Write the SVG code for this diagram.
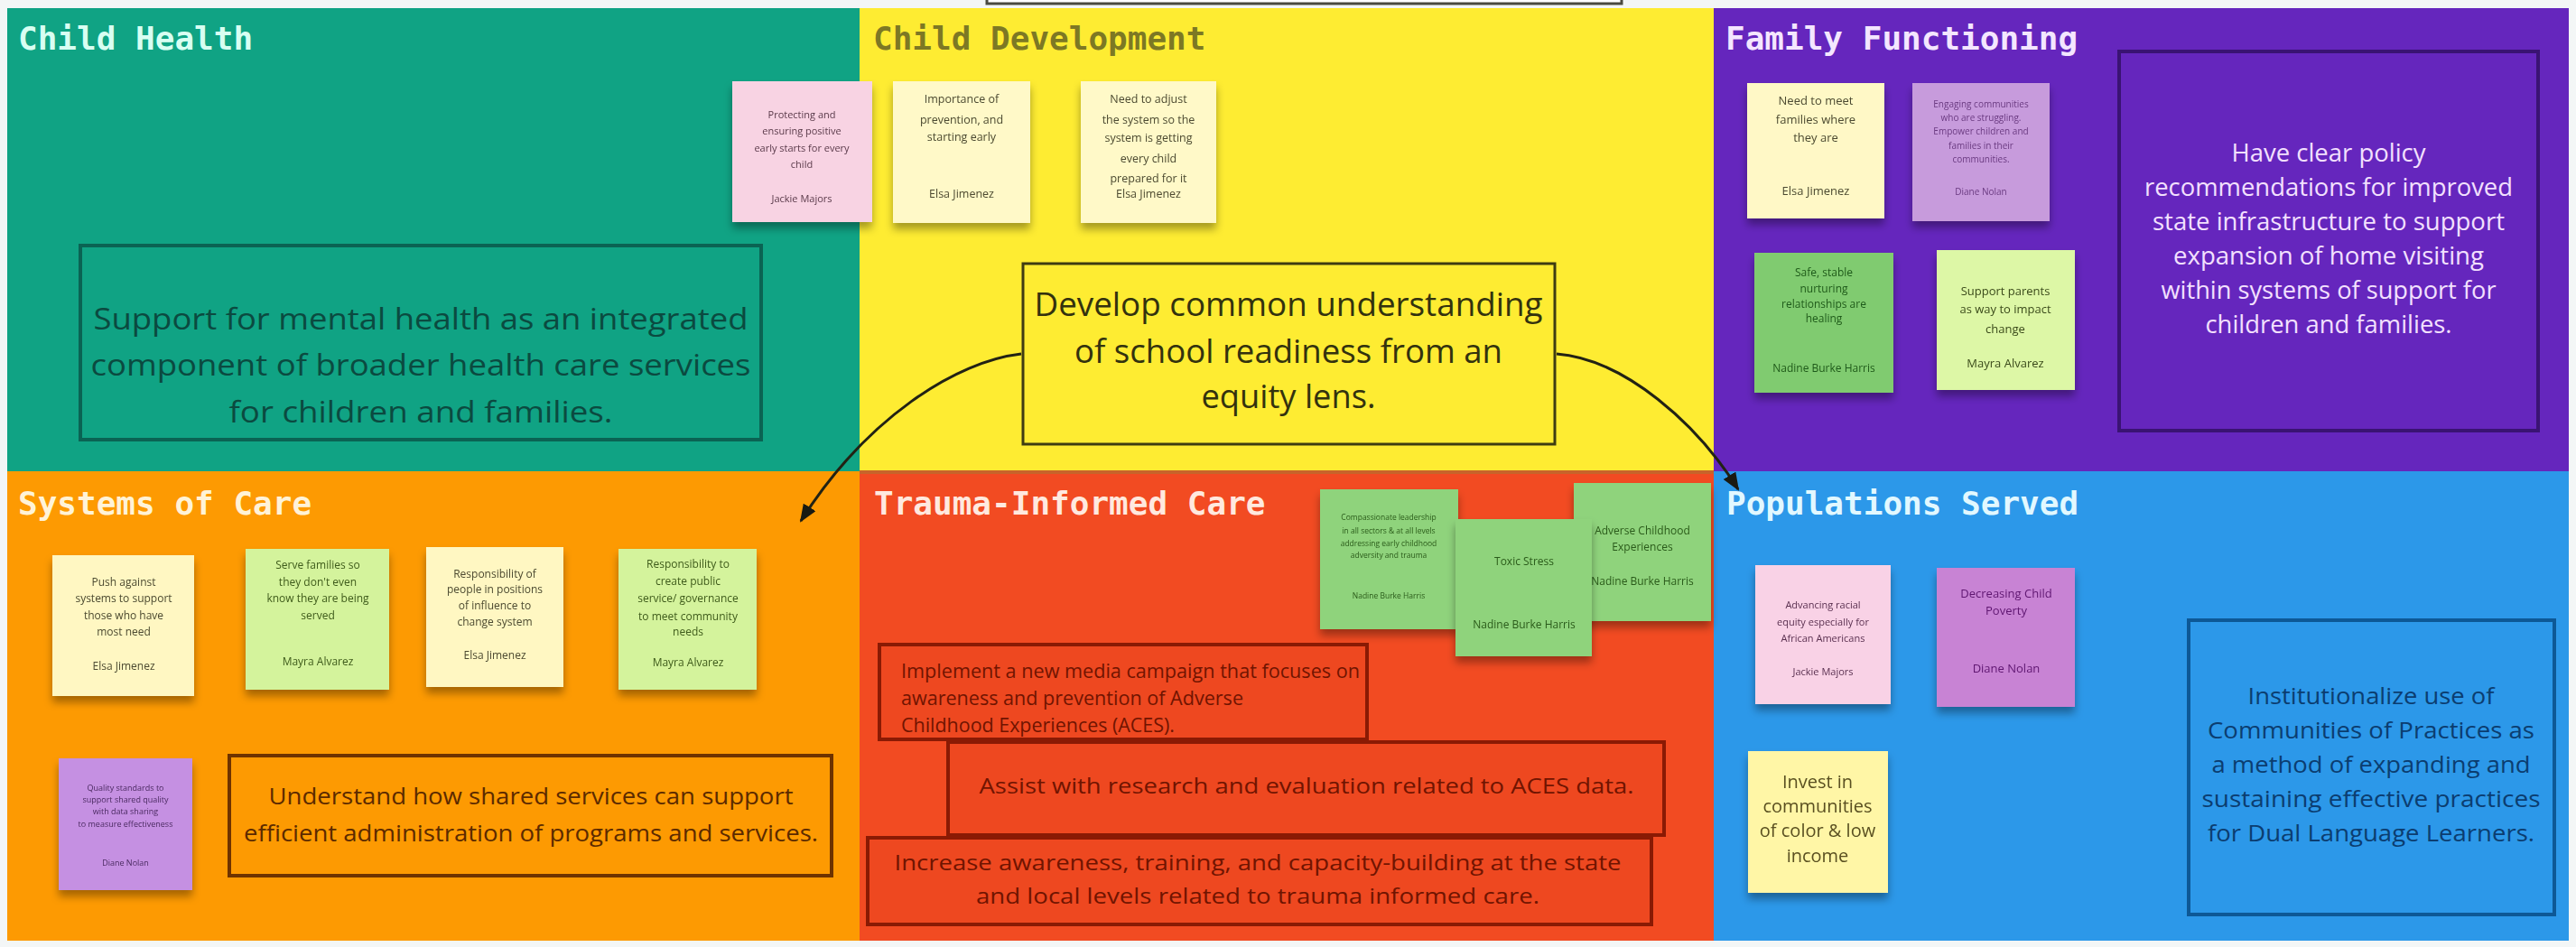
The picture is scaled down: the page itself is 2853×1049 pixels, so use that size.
<svg xmlns="http://www.w3.org/2000/svg" width="2853" height="1049" viewBox="0 0 2853 1049">
<style>
.title{font-family:"DejaVu Sans Mono","Liberation Mono",monospace;font-weight:bold;font-size:36px}
.big{font-family:"Open Sans","Noto Sans","Liberation Sans",sans-serif;text-anchor:middle}
.st{font-family:"Open Sans","Noto Sans","Liberation Sans",sans-serif;text-anchor:middle}
.sticky{filter:url(#sh)}
.conn{fill:none;stroke:#222214;stroke-width:3}
</style>
<defs>
<filter id="sh" x="-20%" y="-20%" width="140%" height="150%">
<feDropShadow dx="0" dy="7" stdDeviation="5" flood-color="#000" flood-opacity="0.35"/>
</filter>
<marker id="ah" markerUnits="userSpaceOnUse" markerWidth="20" markerHeight="16" refX="18" refY="8" orient="auto">
<path d="M0,0 L20,8 L0,16 Z" fill="#1a1a12"/>
</marker>
</defs>
<rect x="0" y="0" width="2853" height="1049" fill="#f3f6f6"/>
<g id="top-box"><rect x="1093" y="-12" width="703" height="16" fill="#ffffff" stroke="#4a4a40" stroke-width="3"/></g>

<g id="panel-child-health">
<rect x="8" y="9" width="944" height="513" fill="#10a384"/>
<text class="title" x="20" y="55" fill="#d8fff2">Child Health</text>
</g>
<g id="panel-child-development">
<rect x="952" y="9" width="946" height="513" fill="#feec32"/>
<text class="title" x="967" y="55" fill="#7d7824">Child Development</text>
</g>
<g id="panel-family-functioning">
<rect x="1898" y="9" width="947" height="513" fill="#6526bd"/>
<text class="title" x="1911" y="55" fill="#f4e6ff">Family Functioning</text>
</g>
<g id="panel-systems-of-care">
<rect x="8" y="522" width="944" height="520" fill="#fd9a02"/>
<text class="title" x="20" y="570" fill="#fff3d8">Systems of Care</text>
</g>
<g id="panel-trauma-informed-care">
<rect x="952" y="522" width="946" height="520" fill="#f24b22"/>
<rect x="952" y="521" width="946" height="4" fill="#c8642a"/>
<text class="title" x="968" y="570" fill="#ffe9df">Trauma-Informed Care</text>
</g>
<g id="panel-populations-served">
<rect x="1898" y="522" width="947" height="520" fill="#2c98e9"/>
<text class="title" x="1912" y="570" fill="#e2f8ff">Populations Served</text>
</g>

<!-- Child Health -->
<g id="box-mental-health">
<rect x="89" y="272" width="754" height="215" fill="#10a384" stroke="#0a6353" stroke-width="4"/>
<text class="big" font-size="33" fill="#0b4a40"><tspan x="466" y="365" textLength="725" lengthAdjust="spacingAndGlyphs">Support for mental health as an integrated</tspan><tspan x="466" y="416" textLength="731" lengthAdjust="spacingAndGlyphs">component of broader health care services</tspan><tspan x="466" y="468" textLength="425" lengthAdjust="spacingAndGlyphs">for children and families.</tspan></text>
</g>

<!-- Child Development -->
<g id="sticky-cd-1" class="sticky">
<rect x="989" y="90" width="152" height="157" fill="#fff9c8"/>
<text class="st" font-size="12.5" fill="#4c4a30"><tspan x="1065" y="114">Importance of</tspan><tspan x="1065" y="137">prevention, and</tspan><tspan x="1065" y="156">starting early</tspan><tspan x="1065" y="219">Elsa Jimenez</tspan></text>
</g>
<g id="sticky-cd-2" class="sticky">
<rect x="1197" y="90" width="150" height="157" fill="#fff9c8"/>
<text class="st" font-size="12.5" fill="#4c4a30"><tspan x="1272" y="114">Need to adjust</tspan><tspan x="1272" y="137">the system so the</tspan><tspan x="1272" y="157">system is getting</tspan><tspan x="1272" y="180">every child</tspan><tspan x="1272" y="202">prepared for it</tspan><tspan x="1272" y="219">Elsa Jimenez</tspan></text>
</g>
<g id="sticky-ch-1" class="sticky">
<rect x="811" y="90" width="155" height="156" fill="#f8d3e3"/>
<text class="st" font-size="11" fill="#5a3a4a"><tspan x="888" y="131">Protecting and</tspan><tspan x="888" y="149">ensuring positive</tspan><tspan x="888" y="168">early starts for every</tspan><tspan x="888" y="186">child</tspan><tspan x="888" y="224">Jackie Majors</tspan></text>
</g>
<g id="box-school-readiness">
<rect x="1133" y="292" width="589" height="200" fill="#feec32" stroke="#3e3c12" stroke-width="3"/>
<text class="big" font-size="37" fill="#33320e"><tspan x="1427" y="350" textLength="563" lengthAdjust="spacingAndGlyphs">Develop common understanding</tspan><tspan x="1427" y="402" textLength="474" lengthAdjust="spacingAndGlyphs">of school readiness from an</tspan><tspan x="1427" y="452" textLength="193" lengthAdjust="spacingAndGlyphs">equity lens.</tspan></text>
</g>

<!-- Family Functioning -->
<g id="sticky-ff-1" class="sticky">
<rect x="1935" y="92" width="152" height="150" fill="#fff8c6"/>
<text class="st" font-size="13" fill="#4c4a30"><tspan x="2011" y="116">Need to meet</tspan><tspan x="2011" y="137">families where</tspan><tspan x="2011" y="157">they are</tspan><tspan x="2011" y="216">Elsa Jimenez</tspan></text>
</g>
<g id="sticky-ff-2" class="sticky">
<rect x="2118" y="92" width="152" height="153" fill="#c79bdc"/>
<text class="st" font-size="10" fill="#6a3a80"><tspan x="2194" y="119">Engaging communities</tspan><tspan x="2194" y="134">who are struggling.</tspan><tspan x="2194" y="149">Empower children and</tspan><tspan x="2194" y="165">families in their</tspan><tspan x="2194" y="180">communities.</tspan><tspan x="2194" y="216">Diane Nolan</tspan></text>
</g>
<g id="sticky-ff-3" class="sticky">
<rect x="1943" y="280" width="154" height="155" fill="#80cb6f"/>
<text class="st" font-size="12" fill="#1f5a1a"><tspan x="2020" y="306">Safe, stable</tspan><tspan x="2020" y="324">nurturing</tspan><tspan x="2020" y="341">relationships are</tspan><tspan x="2020" y="357">healing</tspan><tspan x="2020" y="412">Nadine Burke Harris</tspan></text>
</g>
<g id="sticky-ff-4" class="sticky">
<rect x="2145" y="277" width="153" height="155" fill="#ddf7a6"/>
<text class="st" font-size="13" fill="#3a4a1a"><tspan x="2221" y="327">Support parents</tspan><tspan x="2221" y="347">as way to impact</tspan><tspan x="2221" y="369">change</tspan><tspan x="2221" y="407">Mayra Alvarez</tspan></text>
</g>
<g id="box-policy">
<rect x="2347" y="57" width="464" height="420" fill="#6526bd" stroke="#3a1373" stroke-width="4"/>
<text class="big" font-size="28" fill="#f3e0ff"><tspan x="2579" y="179" textLength="215" lengthAdjust="spacingAndGlyphs">Have clear policy</tspan><tspan x="2579" y="217" textLength="408" lengthAdjust="spacingAndGlyphs">recommendations for improved</tspan><tspan x="2579" y="255" textLength="390" lengthAdjust="spacingAndGlyphs">state infrastructure to support</tspan><tspan x="2579" y="293" textLength="344" lengthAdjust="spacingAndGlyphs">expansion of home visiting</tspan><tspan x="2579" y="331" textLength="371" lengthAdjust="spacingAndGlyphs">within systems of support for</tspan><tspan x="2579" y="369" textLength="273" lengthAdjust="spacingAndGlyphs">children and families.</tspan></text>
</g>

<!-- Systems of Care -->
<g id="sticky-soc-1" class="sticky">
<rect x="58" y="615" width="157" height="156" fill="#fff7c2"/>
<text class="st" font-size="12" fill="#4c4a30"><tspan x="137" y="649">Push against</tspan><tspan x="137" y="667">systems to support</tspan><tspan x="137" y="686">those who have</tspan><tspan x="137" y="704">most need</tspan><tspan x="137" y="742">Elsa Jimenez</tspan></text>
</g>
<g id="sticky-soc-2" class="sticky">
<rect x="272" y="608" width="159" height="156" fill="#d4f39c"/>
<text class="st" font-size="12" fill="#3e5a1a"><tspan x="352" y="630">Serve families so</tspan><tspan x="352" y="649">they don't even</tspan><tspan x="352" y="667">know they are being</tspan><tspan x="352" y="686">served</tspan><tspan x="352" y="737">Mayra Alvarez</tspan></text>
</g>
<g id="sticky-soc-3" class="sticky">
<rect x="472" y="606" width="152" height="155" fill="#fff7c2"/>
<text class="st" font-size="12" fill="#4c4a30"><tspan x="548" y="640">Responsibility of</tspan><tspan x="548" y="657">people in positions</tspan><tspan x="548" y="675">of influence to</tspan><tspan x="548" y="693">change system</tspan><tspan x="548" y="730">Elsa Jimenez</tspan></text>
</g>
<g id="sticky-soc-4" class="sticky">
<rect x="685" y="608" width="153" height="156" fill="#d4f39c"/>
<text class="st" font-size="12" fill="#3e5a1a"><tspan x="762" y="629">Responsibility to</tspan><tspan x="762" y="648">create public</tspan><tspan x="762" y="667">service/ governance</tspan><tspan x="762" y="687">to meet community</tspan><tspan x="762" y="704">needs</tspan><tspan x="762" y="738">Mayra Alvarez</tspan></text>
</g>
<g id="sticky-soc-5" class="sticky">
<rect x="65" y="840" width="148" height="146" fill="#c590e2"/>
<text class="st" font-size="9" fill="#4a2a60"><tspan x="139" y="876">Quality standards to</tspan><tspan x="139" y="889">support shared quality</tspan><tspan x="139" y="902">with data sharing</tspan><tspan x="139" y="916">to measure effectiveness</tspan><tspan x="139" y="959">Diane Nolan</tspan></text>
</g>
<g id="box-shared-services">
<rect x="254" y="837" width="667" height="133" fill="#fd9a02" stroke="#6e3300" stroke-width="4"/>
<text class="big" font-size="25" fill="#5c2a00"><tspan x="588" y="891" textLength="581" lengthAdjust="spacingAndGlyphs">Understand how shared services can support</tspan><tspan x="588" y="932" textLength="636" lengthAdjust="spacingAndGlyphs">efficient administration of programs and services.</tspan></text>
</g>

<!-- Trauma-Informed Care -->
<g id="sticky-tic-1" class="sticky">
<rect x="1462" y="542" width="153" height="155" fill="#8fd37b"/>
<text class="st" font-size="8.5" fill="#2a5a1a"><tspan x="1538" y="576">Compassionate leadership</tspan><tspan x="1538" y="591">in all sectors &amp; at all levels</tspan><tspan x="1538" y="605">addressing early childhood</tspan><tspan x="1538" y="618">adversity and trauma</tspan><tspan x="1538" y="663">Nadine Burke Harris</tspan></text>
</g>
<g id="sticky-tic-3" class="sticky">
<rect x="1743" y="535" width="152" height="153" fill="#8fd37b"/>
<text class="st" font-size="12" fill="#2a5a1a"><tspan x="1819" y="592">Adverse Childhood</tspan><tspan x="1819" y="610">Experiences</tspan><tspan x="1819" y="648">Nadine Burke Harris</tspan></text>
</g>
<g id="sticky-tic-2" class="sticky">
<rect x="1612" y="575" width="151" height="152" fill="#8fd37b"/>
<text class="st" font-size="12" fill="#2a5a1a"><tspan x="1688" y="626">Toxic Stress</tspan><tspan x="1688" y="696">Nadine Burke Harris</tspan></text>
</g>
<g id="box-media-campaign">
<rect x="974" y="714" width="540" height="105" fill="#ee4820" stroke="#8a1a04" stroke-width="4"/>
<text font-family="Open Sans, Noto Sans, Liberation Sans, sans-serif" font-size="21" fill="#701400"><tspan x="998" y="751" textLength="508" lengthAdjust="spacingAndGlyphs">Implement a new media campaign that focuses on</tspan><tspan x="998" y="781" textLength="379" lengthAdjust="spacingAndGlyphs">awareness and prevention of Adverse</tspan><tspan x="998" y="811" textLength="303" lengthAdjust="spacingAndGlyphs">Childhood Experiences (ACES).</tspan></text>
</g>
<g id="box-research">
<rect x="1050" y="822" width="793" height="103" fill="#ee4820" stroke="#8a1a04" stroke-width="4"/>
<text class="big" font-size="24" fill="#701400"><tspan x="1447" y="879" textLength="725" lengthAdjust="spacingAndGlyphs">Assist with research and evaluation related to ACES data.</tspan></text>
</g>
<g id="box-awareness">
<rect x="961" y="928" width="868" height="96" fill="#ee4820" stroke="#8a1a04" stroke-width="4"/>
<text class="big" font-size="24" fill="#701400"><tspan x="1393" y="964" textLength="805" lengthAdjust="spacingAndGlyphs">Increase awareness, training, and capacity-building at the state</tspan><tspan x="1393" y="1001" textLength="624" lengthAdjust="spacingAndGlyphs">and local levels related to trauma informed care.</tspan></text>
</g>

<!-- Populations Served -->
<g id="sticky-ps-1" class="sticky">
<rect x="1944" y="626" width="150" height="154" fill="#f9d2e6"/>
<text class="st" font-size="11" fill="#5a3050"><tspan x="2019" y="674">Advancing racial</tspan><tspan x="2019" y="693">equity especially for</tspan><tspan x="2019" y="711">African Americans</tspan><tspan x="2019" y="748">Jackie Majors</tspan></text>
</g>
<g id="sticky-ps-2" class="sticky">
<rect x="2145" y="629" width="153" height="154" fill="#c883d4"/>
<text class="st" font-size="13" fill="#5e1670"><tspan x="2222" y="662">Decreasing Child</tspan><tspan x="2222" y="681">Poverty</tspan><tspan x="2222" y="745">Diane Nolan</tspan></text>
</g>
<g id="sticky-ps-3" class="sticky">
<rect x="1936" y="832" width="155" height="157" fill="#fff6a6"/>
<text class="st" font-size="20" fill="#5a5020"><tspan x="2013" y="873">Invest in</tspan><tspan x="2013" y="900">communities</tspan><tspan x="2013" y="927">of color &amp; low</tspan><tspan x="2013" y="955">income</tspan></text>
</g>
<g id="box-communities-of-practice">
<rect x="2424" y="687" width="405" height="326" fill="#2c98e9" stroke="#0d5896" stroke-width="4"/>
<text class="big" font-size="25" fill="#0b3d70"><tspan x="2626" y="780" textLength="273" lengthAdjust="spacingAndGlyphs">Institutionalize use of</tspan><tspan x="2626" y="818" textLength="362" lengthAdjust="spacingAndGlyphs">Communities of Practices as</tspan><tspan x="2626" y="856" textLength="353" lengthAdjust="spacingAndGlyphs">a method of expanding and</tspan><tspan x="2626" y="894" textLength="375" lengthAdjust="spacingAndGlyphs">sustaining effective practices</tspan><tspan x="2626" y="932" textLength="362" lengthAdjust="spacingAndGlyphs">for Dual Language Learners.</tspan></text>
</g>

<g id="connectors">
<path class="conn" d="M1131,392 C1060,400 960,462 887,577" marker-end="url(#ah)"/>
<path class="conn" d="M1724,392 C1800,398 1880,470 1925,542" marker-end="url(#ah)"/>
</g>
</svg>
